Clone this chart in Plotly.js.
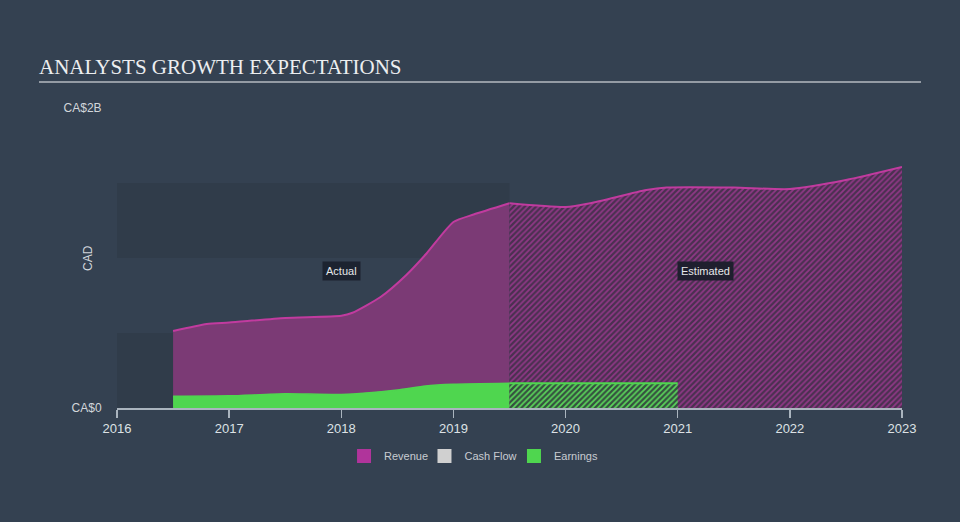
<!DOCTYPE html>
<html>
<head>
<meta charset="utf-8">
<script src="https://cdn.plot.ly/plotly-3.0.1.min.js"></script>
<style>html,body{margin:0;padding:0;background:#344151;}#chart{width:960px;height:522px;}</style>
</head>
<body>
<div id="chart"></div>
<script>
// Data (values in CA$ billions)
const revActualX = [2016.5, 2016.8, 2017.0, 2017.5, 2018.0, 2018.1, 2018.35, 2018.58, 2018.76, 2019.0, 2019.18, 2019.5];
const revActualY = [0.513, 0.56, 0.57, 0.60, 0.615, 0.635, 0.74, 0.887, 1.03, 1.24, 1.29, 1.365];
const revEstX = [2019.5, 2020.0, 2020.22, 2020.72, 2020.9, 2021.5, 2022.0, 2022.5, 2023.0];
const revEstY = [1.365, 1.34, 1.365, 1.453, 1.47, 1.47, 1.46, 1.52, 1.607];
const earnActualX = [2016.5, 2017.0, 2017.5, 2018.0, 2018.5, 2018.75, 2019.0, 2019.5];
const earnActualY = [0.078, 0.081, 0.095, 0.09, 0.12, 0.147, 0.158, 0.165];
const earnEstX = [2019.5, 2021.0];
const earnEstY = [0.165, 0.165];
const legendNames = ['Revenue', 'Cash Flow', 'Earnings'];
const legendColors = ['#b0349b', '#d0d0d0', '#4fd64f'];
const legendPos = [0.2892, 0.3917, 0.5057];
const yTickVals = [0, 2];
const yTickText = ['CA$0', 'CA$2B'];
const xTickVals = [2016, 2017, 2018, 2019, 2020, 2021, 2022, 2023];
const nowX = 2019.5;
const bandEdges = [[0, 0.5], [1.0, 1.5]];

const traces = [
  {x: revActualX, y: revActualY, type: 'scatter', mode: 'lines', fill: 'tozeroy',
   line: {color: '#c13b9f', width: 2, shape: 'spline', smoothing: 0.6},
   fillcolor: '#7b3a75', showlegend: false, hoverinfo: 'skip'},
  {x: revEstX, y: revEstY, type: 'scatter', mode: 'lines', fill: 'tozeroy',
   line: {color: '#c13b9f', width: 2, shape: 'spline', smoothing: 0.6},
   fillcolor: '#4a3050',
   fillpattern: {shape: '/', bgcolor: '#4a3050', fgcolor: '#8f3886', size: 4, solidity: 0.45},
   showlegend: false, hoverinfo: 'skip'},
  {x: earnActualX, y: earnActualY, type: 'scatter', mode: 'lines', fill: 'tozeroy',
   line: {color: '#4fd64f', width: 1.5, shape: 'spline', smoothing: 0.6},
   fillcolor: '#4fd64f', showlegend: false, hoverinfo: 'skip'},
  {x: earnEstX, y: earnEstY, type: 'scatter', mode: 'lines', fill: 'tozeroy',
   line: {color: '#4fd64f', width: 2},
   fillcolor: '#35503f',
   fillpattern: {shape: '/', bgcolor: '#35503f', fgcolor: '#5ad35a', size: 4, solidity: 0.45},
   showlegend: false, hoverinfo: 'skip'}
];
const legendKeys = ['legend', 'legend2', 'legend3'];
legendNames.forEach((n, i) => {
  traces.push({x: [null], y: [null], type: 'scatter', mode: 'markers', name: n, legend: legendKeys[i],
    marker: {symbol: 'square', size: 14, color: legendColors[i]}, showlegend: true, hoverinfo: 'skip'});
});

const shapes = bandEdges.map(b => ({
  type: 'rect', xref: 'x', yref: 'y', x0: 2016, x1: nowX, y0: b[0], y1: b[1],
  fillcolor: '#303c4a', line: {width: 0}, layer: 'below'
}));
shapes.push({type: 'line', xref: 'paper', yref: 'paper', x0: -0.0994, x1: 1.0242, y0: 1.0867, y1: 1.0867,
  line: {color: '#b4bac1', width: 1.5}});

const layout = {
  width: 960, height: 522,
  paper_bgcolor: '#344151', plot_bgcolor: 'rgba(0,0,0,0)',
  margin: {l: 117, r: 58, t: 108, b: 114},
  font: {family: '"Liberation Sans", Arial, sans-serif', color: '#d2d6db', size: 12},
  title: {text: 'ANALYSTS GROWTH EXPECTATIONS', x: 39/960, xanchor: 'left', y: 1 - 67/522, yanchor: 'middle',
    font: {family: '"Liberation Serif", "Times New Roman", serif', size: 21, color: '#eceef0'}},
  xaxis: {range: [2016, 2023], tickvals: xTickVals, ticktext: xTickVals.map(String),
    showgrid: false, zeroline: false, showline: true, linecolor: '#aab4be', linewidth: 1.5,
    ticks: 'outside', ticklen: 8, tickcolor: '#aab4be', tickwidth: 1.5,
    tickfont: {size: 13, color: '#dde1e5'}, fixedrange: true},
  yaxis: {range: [0, 2], tickvals: yTickVals, ticktext: yTickText, showgrid: false, zeroline: false,
    showline: false, ticks: 'outside', ticklen: 12, tickcolor: 'rgba(0,0,0,0)',
    tickfont: {size: 12, color: '#d2d6db'}, fixedrange: true},
  showlegend: true,
  shapes: shapes,
  annotations: [
    {x: -0.037, y: 0.5, xref: 'paper', yref: 'paper', xanchor: 'center', yanchor: 'middle',
     text: 'CAD', textangle: -90, showarrow: false, font: {size: 12, color: '#d2d6db'}},
    {x: 2018.0, y: 0.913, xref: 'x', yref: 'y', text: 'Actual', showarrow: false,
     bgcolor: '#1c2330', borderpad: 3, font: {size: 11, color: '#e6e8ea'}},
    {x: 2021.25, y: 0.913, xref: 'x', yref: 'y', text: 'Estimated', showarrow: false,
     bgcolor: '#1f1f2e', borderpad: 3, font: {size: 11, color: '#e6e8ea'}}
  ],
  hovermode: false
};
legendKeys.forEach((k, i) => {
  layout[k] = {orientation: 'h', x: legendPos[i], xanchor: 'left', y: -0.16, yanchor: 'middle',
    font: {size: 11, color: '#c8ccd1'}, bgcolor: 'rgba(0,0,0,0)'};
});
Plotly.newPlot('chart', traces, layout, {displayModeBar: false, staticPlot: true});
</script>
</body>
</html>
